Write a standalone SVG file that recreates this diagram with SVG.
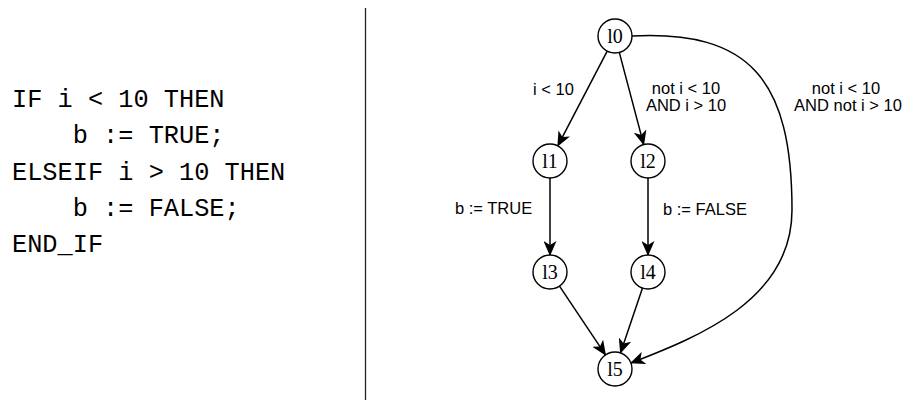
<svg xmlns="http://www.w3.org/2000/svg" width="904" height="400" viewBox="0 0 904 400">
  <style>
    .code { font-family: "Liberation Mono", "DejaVu Sans Mono", monospace; font-size: 25.3px; fill: #000; white-space: pre; }
    .node circle { fill: #fff; stroke: #000; stroke-width: 1.4; }
    .node text { font-family: "Liberation Serif", "DejaVu Serif", serif; font-size: 20px; fill: #000; text-anchor: middle; }
    .edge { fill: none; stroke: #000; stroke-width: 1.5; marker-end: url(#arrow); }
    .lbl { font-family: "Liberation Sans", Arial, sans-serif; font-size: 16.5px; fill: #000; }
  </style>
  <defs>
    <marker id="arrow" markerUnits="userSpaceOnUse" markerWidth="15" markerHeight="13" viewBox="0 0 15 13" refX="14" refY="6.5" orient="auto">
      <path d="M0,0 L15,6.5 L0,13 L4,6.5 z" fill="#000"/>
    </marker>
  </defs>
  <rect width="904" height="400" fill="#fff"/>

  <!-- source code listing -->
  <g id="code">
    <text class="code" x="12" y="107">IF i &lt; 10 THEN</text>
    <text class="code" x="12" y="143" xml:space="preserve">    b := TRUE;</text>
    <text class="code" x="12" y="180">ELSEIF i &gt; 10 THEN</text>
    <text class="code" x="12" y="216" xml:space="preserve">    b := FALSE;</text>
    <text class="code" x="12" y="252">END_IF</text>
  </g>

  <!-- divider -->
  <line x1="365.5" y1="8" x2="365.5" y2="400" stroke="#222" stroke-width="1.3"/>

  <!-- control-flow edges -->
  <g id="edges">
    <line class="edge" x1="607.2" y1="51.1" x2="557.8" y2="145.9"/>
    <line class="edge" x1="619.3" y1="52.4" x2="643.7" y2="144.6"/>
    <line class="edge" x1="550" y1="178" x2="550" y2="255"/>
    <line class="edge" x1="648" y1="178" x2="648" y2="255"/>
    <line class="edge" x1="559.5" y1="286.1" x2="605.5" y2="354.9"/>
    <line class="edge" x1="642.5" y1="288.1" x2="620.5" y2="352.9"/>
    <path class="edge" d="M632,36 C750,30 792,80 792,210 C792,300 698,337 631,363"/>
  </g>

  <!-- edge labels -->
  <g id="labels">
    <text class="lbl" x="533" y="95">i &lt; 10</text>
    <text class="lbl" x="686" y="94" text-anchor="middle">not i &lt; 10</text>
    <text class="lbl" x="686" y="111" text-anchor="middle">AND i &gt; 10</text>
    <text class="lbl" x="846" y="94" text-anchor="middle">not i &lt; 10</text>
    <text class="lbl" x="848" y="111" text-anchor="middle">AND not i &gt; 10</text>
    <text class="lbl" x="455" y="214">b := TRUE</text>
    <text class="lbl" x="663" y="215">b := FALSE</text>
  </g>

  <!-- nodes -->
  <g id="l0" class="node"><circle cx="615" cy="36" r="17"/><text x="615" y="42.5">l0</text></g>
  <g id="l1" class="node"><circle cx="550" cy="161" r="17"/><text x="550" y="167.5">l1</text></g>
  <g id="l2" class="node"><circle cx="648" cy="161" r="17"/><text x="648" y="167.5">l2</text></g>
  <g id="l3" class="node"><circle cx="550" cy="272" r="17"/><text x="550" y="278.5">l3</text></g>
  <g id="l4" class="node"><circle cx="648" cy="272" r="17"/><text x="648" y="278.5">l4</text></g>
  <g id="l5" class="node"><circle cx="615" cy="369" r="17"/><text x="615" y="375.5">l5</text></g>
</svg>
